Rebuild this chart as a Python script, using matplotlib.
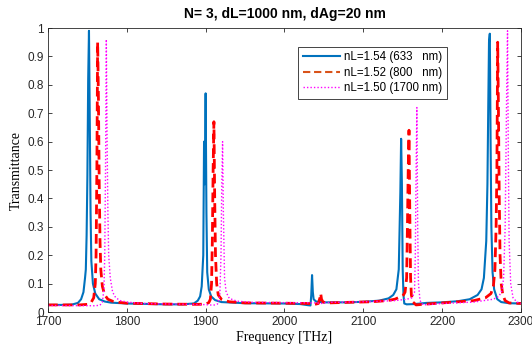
import matplotlib
matplotlib.use("Agg")
import matplotlib.pyplot as plt
from matplotlib.lines import Line2D

# values
freq_154 = [1700, 1720, 1730, 1738, 1742, 1745, 1747, 1748, 1749, 1750, 1751, 1752, 1753, 1754,
            1755, 1757, 1760, 1765, 1772, 1780, 1800, 1850, 1870, 1885, 1890, 1893, 1895, 1897,
            1898, 1899, 1900, 1901, 1902, 1904, 1907, 1912, 1920, 1950, 2000, 2020, 2030, 2033,
            2034, 2035, 2036, 2037, 2040, 2050, 2080, 2100, 2120, 2132, 2138, 2142, 2145, 2147,
            2148, 2149, 2150, 2151, 2152, 2155, 2165, 2180, 2200, 2220, 2235, 2245, 2250, 2253,
            2256, 2257.5, 2258.5, 2259.5, 2260.5, 2261.5, 2262.5, 2264, 2266, 2270, 2275, 2285, 2300]
trans_154 = [0.025, 0.025, 0.026, 0.032, 0.045, 0.07, 0.12, 0.15, 0.27, 0.48, 0.82, 0.99, 0.68, 0.35,
             0.18, 0.1, 0.065, 0.045, 0.037, 0.033, 0.03, 0.027, 0.027, 0.03, 0.04, 0.055, 0.09, 0.2,
             0.6, 0.45, 0.77, 0.35, 0.14, 0.08, 0.055, 0.042, 0.035, 0.031, 0.03, 0.028, 0.024, 0.023,
             0.06, 0.13, 0.07, 0.045, 0.037, 0.034, 0.034, 0.036, 0.04, 0.048, 0.06, 0.08, 0.15, 0.42,
             0.61, 0.45, 0.15, 0.06, 0.03, 0.027, 0.028, 0.032, 0.034, 0.038, 0.045, 0.06, 0.08, 0.12,
             0.25, 0.45, 0.71, 0.95, 0.98, 0.6, 0.3, 0.14, 0.08, 0.045, 0.035, 0.031, 0.03]

freq_152 = [1700, 1740, 1750, 1755, 1758, 1760, 1761, 1762, 1763, 1764, 1765, 1766, 1767, 1769,
            1772, 1776, 1782, 1790, 1800, 1850, 1890, 1900, 1904, 1906, 1907.5, 1908.5, 1909.5,
            1910.5, 1911.5, 1912.5, 1914, 1916, 1920, 1930, 1950, 2000, 2030, 2040, 2043, 2045,
            2046, 2047, 2049, 2055, 2080, 2110, 2130, 2140, 2148, 2151, 2153, 2155, 2156, 2157,
            2158, 2159, 2160, 2161, 2163, 2167, 2175, 2190, 2210, 2240, 2255, 2262, 2265, 2267,
            2268.5, 2269.5, 2270.5, 2271.5, 2272.5, 2273.5, 2275, 2277, 2280, 2285, 2300]
trans_152 = [0.025, 0.025, 0.027, 0.035, 0.05, 0.1, 0.2, 0.5, 0.95, 0.75, 0.45, 0.25, 0.15, 0.09,
             0.06, 0.045, 0.038, 0.034, 0.031, 0.028, 0.027, 0.028, 0.033, 0.045, 0.1, 0.25, 0.5,
             0.67, 0.4, 0.2, 0.1, 0.06, 0.045, 0.036, 0.032, 0.031, 0.03, 0.028, 0.03, 0.05,
             0.065, 0.045, 0.035, 0.032, 0.034, 0.036, 0.04, 0.045, 0.055, 0.06, 0.07, 0.12, 0.3, 0.5,
             0.64, 0.35, 0.12, 0.06, 0.035, 0.025, 0.027, 0.03, 0.034, 0.04, 0.05, 0.065, 0.09, 0.15,
             0.3, 0.5, 0.95, 0.7, 0.4, 0.2, 0.1, 0.06, 0.04, 0.032, 0.03]

freq_150 = [1700, 1760, 1766, 1769, 1771, 1772, 1773, 1774, 1775, 1776, 1777, 1779, 1782, 1786,
            1792, 1800, 1820, 1860, 1900, 1910, 1915, 1918, 1919.5, 1920.5, 1921.5, 1922.5, 1924,
            1926, 1930, 1940, 1960, 2000, 2040, 2048, 2052, 2060, 2100, 2140, 2155, 2162, 2165,
            2166, 2167, 2168, 2169, 2170, 2172, 2176, 2185, 2200, 2240, 2265, 2272, 2276, 2278,
            2280, 2281, 2282, 2283, 2284, 2285, 2287, 2290, 2295, 2300]
trans_150 = [0.023, 0.022, 0.024, 0.035, 0.08, 0.2, 0.5, 0.96, 0.6, 0.35, 0.2, 0.12, 0.07, 0.05,
             0.04, 0.035, 0.03, 0.028, 0.026, 0.024, 0.028, 0.06, 0.2, 0.45, 0.6, 0.35, 0.12,
             0.07, 0.048, 0.038, 0.034, 0.033, 0.032, 0.03, 0.033, 0.034, 0.036, 0.04, 0.045, 0.05, 0.07,
             0.2, 0.5, 0.72, 0.3, 0.1, 0.04, 0.025, 0.027, 0.03, 0.035, 0.045, 0.055, 0.075, 0.12,
             0.3, 0.55, 0.8, 0.99, 0.55, 0.25, 0.1, 0.05, 0.035, 0.03]

labels = ['nL=1.54 (633   nm)', 'nL=1.52 (800   nm)', 'nL=1.50 (1700 nm)']
x_ticks = [1700, 1800, 1900, 2000, 2100, 2200, 2300]
y_ticks = [0, 0.1, 0.2, 0.3, 0.4, 0.5, 0.6, 0.7, 0.8, 0.9, 1]
y_ticklabels = ['0', '0.1', '0.2', '0.3', '0.4', '0.5', '0.6', '0.7', '0.8', '0.9', '1']

plt.rcParams['font.family'] = ['Liberation Sans', 'DejaVu Sans']

fig = plt.figure(figsize=(5.32, 3.52), dpi=100)
ax = fig.add_axes([0.0902, 0.1136, 0.889, 0.8068])

ax.plot(freq_154, trans_154, color='#0072BD', lw=1.5)
ax.plot(freq_152, trans_152, color='#FF0000', lw=2.0, ls=(0, (3.5, 1.8)))
ax.plot(freq_150, trans_150, color='#FF00FF', lw=1.0, ls=(0, (1, 1.5)))

ax.set_xlim(1700, 2300)
ax.set_ylim(0, 1)
ax.set_xticks(x_ticks)
ax.set_yticks(y_ticks)
ax.set_yticklabels(y_ticklabels)
ax.tick_params(direction='in', length=3, width=0.6, top=True, right=True,
               labelsize=8.5, colors='#262626', pad=3)
for s in ax.spines.values():
    s.set_linewidth(0.6)
    s.set_color('#262626')

ax.set_title('N= 3, dL=1000 nm, dAg=20 nm', fontsize=10, fontweight='bold', pad=7)
ax.set_xlabel('Frequency [THz]', family='Liberation Serif', fontsize=10, labelpad=2)
ax.set_ylabel('Transmittance', family='Liberation Serif', fontsize=10, labelpad=3)

# legend handles drawn as in the reference (orange for the second entry)
handles = [Line2D([], [], color='#0072BD', lw=1.5),
           Line2D([], [], color='#D95319', lw=1.5, ls=(0, (3.5, 1.8))),
           Line2D([], [], color='#FF00FF', lw=1.0, ls=(0, (1, 1.5)))]
leg = ax.legend(handles, labels, loc='upper right', bbox_to_anchor=(0.856, 0.955),
                fontsize=8.3, handlelength=3.2, handletextpad=0.4, borderpad=0.4,
                labelspacing=0.3, fancybox=False, framealpha=1, edgecolor='#262626')
leg.get_frame().set_linewidth(0.6)

fig.savefig('out.png', dpi=100)
